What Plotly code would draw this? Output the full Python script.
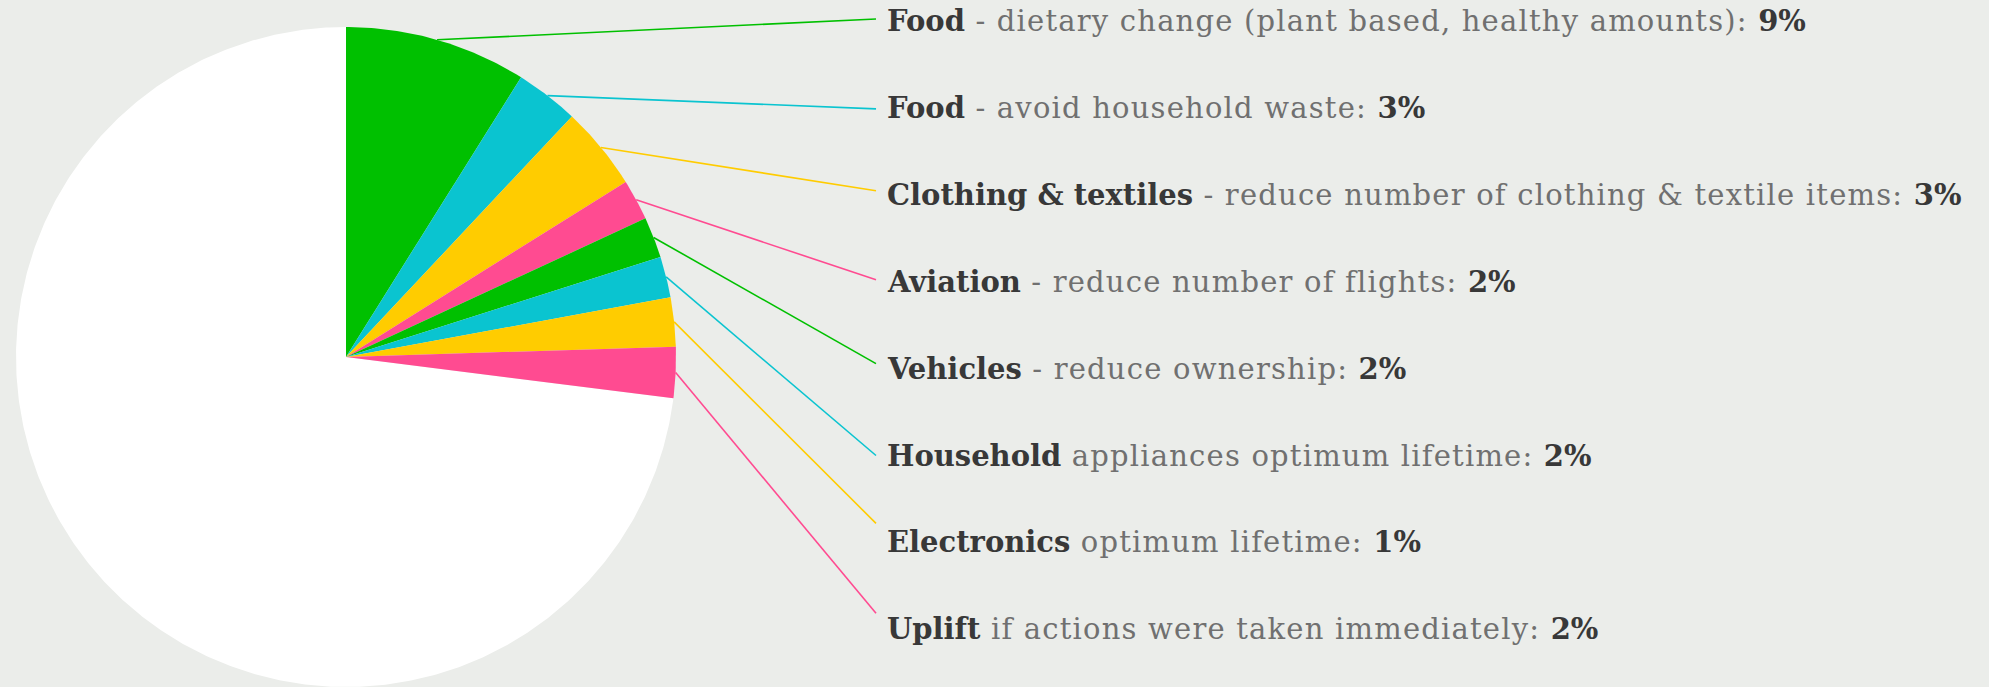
import numpy as np
import plotly.graph_objects as go

# ---- data ----
slice_values = [8.9, 3.1, 4.1, 2.0, 2.0, 2.0, 2.4, 2.5]   # angular share of the pie, %
slice_colors = ["#00c000", "#0ac4d0", "#ffcc00", "#ff4b91",
                "#00c000", "#0ac4d0", "#ffcc00", "#ff4b91"]
label_bold = ["Food", "Food", "Clothing & textiles", "Aviation", "Vehicles",
              "Household", "Electronics", "Uplift"]
label_rest = [" - dietary change (plant based, healthy amounts): ",
              " - avoid household waste: ",
              " - reduce number of clothing & textile items: ",
              " - reduce number of flights: ",
              " - reduce ownership: ",
              " appliances optimum lifetime: ",
              " optimum lifetime: ",
              " if actions were taken immediately: "]
label_pct = ["9%", "3%", "3%", "2%", "2%", "2%", "1%", "2%"]

# ---- layout / style ----
W, H = 1989, 687
BG = "#ebedea"
CX, CY, R = 346, 357, 330
LABEL_X = 885
LINE_END_X = 876
LABEL_TOP = 21
LABEL_STEP = 86.9
line_end_offsets = [-2, 1, -4, -2, -5, 0, -19, -16]
FONT = "DejaVu Serif"
FS = 29
REG_STYLE = "color:#707070;letter-spacing:1.2px"
BOLD_STYLE = "color:#383838"

fig = go.Figure()

def wedge(a0, a1, color):
    t = np.linspace(a0, a1, max(4, int((a1 - a0) * 2) + 2))
    xs = np.concatenate([[CX], CX + R * np.sin(np.radians(t)), [CX]])
    ys = np.concatenate([[CY], CY - R * np.cos(np.radians(t)), [CY]])
    fig.add_trace(go.Scatter(x=xs, y=ys, mode="lines", fill="toself",
                             fillcolor=color, line=dict(width=0, color=color),
                             hoverinfo="skip", showlegend=False))

total = sum(slice_values)
# white remainder of the pie
wedge(total * 3.6, 360, "#ffffff")

start = 0.0
mids = []
for v, c in zip(slice_values, slice_colors):
    a0, a1 = start * 3.6, (start + v) * 3.6
    wedge(a0, a1, c)
    mids.append((a0 + a1) / 2)
    start += v

annotations = []
for i, (m, c) in enumerate(zip(mids, slice_colors)):
    ly = LABEL_TOP + i * LABEL_STEP
    x0 = CX + R * np.sin(np.radians(m))
    y0 = CY - R * np.cos(np.radians(m))
    fig.add_trace(go.Scatter(x=[x0, LINE_END_X], y=[y0, ly + line_end_offsets[i]],
                             mode="lines", line=dict(color=c, width=1.6),
                             hoverinfo="skip", showlegend=False))
    txt = (f"<b><span style='{BOLD_STYLE}'>{label_bold[i]}</span></b>"
           f"<span style='{REG_STYLE}'>{label_rest[i]}</span>"
           f"<b><span style='{BOLD_STYLE}'>{label_pct[i]}</span></b>")
    annotations.append(dict(x=LABEL_X, y=ly, xref="x", yref="y", text=txt,
                            showarrow=False, xanchor="left", yanchor="middle",
                            font=dict(family=FONT, size=FS, color="#707070")))

fig.update_layout(
    width=W, height=H,
    margin=dict(l=0, r=0, t=0, b=0),
    paper_bgcolor=BG, plot_bgcolor=BG,
    xaxis=dict(range=[0, W], visible=False, fixedrange=True),
    yaxis=dict(range=[H, 0], visible=False, fixedrange=True),
    annotations=annotations,
    showlegend=False,
    hovermode=False,
)

fig.write_html("out.html", config={"displayModeBar": False},
               post_script="document.body.style.margin='0';document.body.style.overflow='hidden';")
